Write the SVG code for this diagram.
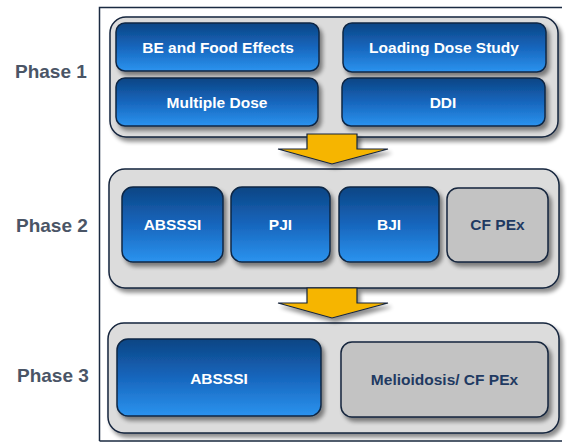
<svg xmlns="http://www.w3.org/2000/svg" width="568" height="443" viewBox="0 0 568 443">
<defs>
<linearGradient id="blue" x1="0" y1="0" x2="0" y2="1">
<stop offset="0" stop-color="#0c4584"/>
<stop offset="0.5" stop-color="#1766bd"/>
<stop offset="1" stop-color="#2b93ef"/>
</linearGradient>
<filter id="sh" x="-10%" y="-10%" width="130%" height="140%">
<feGaussianBlur in="SourceAlpha" stdDeviation="2"/>
<feOffset dx="3" dy="4" result="b"/>
<feComponentTransfer><feFuncA type="linear" slope="0.45"/></feComponentTransfer>
<feMerge><feMergeNode/><feMergeNode in="SourceGraphic"/></feMerge>
</filter>
</defs>
<style>
.frame{stroke:#1b2b42;stroke-width:1.5;fill:none}
.cont{fill:#dcdcdc;stroke:#15253d;stroke-width:1.5;filter:url(#sh)}
.bb{fill:url(#blue);stroke:#0f2744;stroke-width:1.5;filter:url(#sh)}
.gb{fill:#c3c3c3;stroke:#15253d;stroke-width:1.5;filter:url(#sh)}
.arr{fill:#f6b500;stroke:#15253d;stroke-width:1.2;filter:url(#sh)}
.wt{font-family:"Liberation Sans",Arial,sans-serif;font-weight:bold;font-size:15.5px;fill:#ffffff;text-anchor:middle}
.dt{font-family:"Liberation Sans",Arial,sans-serif;font-weight:bold;font-size:15.5px;fill:#1f3a62;text-anchor:middle}
.ph{font-family:"Liberation Sans",Arial,sans-serif;font-weight:bold;font-size:19px;fill:#4a5566}
</style>
<g id="frame">
<path class="frame" d="M99.5 441V7.5H562M99.5 441H562"/>
</g>
<g id="labels">
<text class="ph" x="15" y="78">Phase 1</text>
<text class="ph" x="16" y="232">Phase 2</text>
<text class="ph" x="17" y="382">Phase 3</text>
</g>
<g id="phase1">
<rect class="cont" x="110" y="17" width="448" height="120" rx="16"/>
</g>
<g id="phase2">
<rect class="cont" x="109" y="169" width="450" height="119" rx="16"/>
</g>
<g id="phase3">
<rect class="cont" x="108" y="323" width="451" height="110" rx="16"/>
</g>
<g id="connectors">
<path class="arr" d="M307 134H357V149H388L332 164L278 149H307Z"/>
<path class="arr" d="M307 288H357V303H388L332 318L278 303H307Z"/>
</g>
<g id="be-food">
<rect class="bb" x="116" y="23" width="203" height="48" rx="9"/>
<text class="wt" x="218" y="53">BE and Food Effects</text>
</g>
<g id="loading-dose">
<rect class="bb" x="343" y="23" width="203" height="49" rx="9"/>
<text class="wt" x="444" y="53">Loading Dose Study</text>
</g>
<g id="multiple-dose">
<rect class="bb" x="116" y="78" width="202" height="48" rx="9"/>
<text class="wt" x="217" y="108">Multiple Dose</text>
</g>
<g id="ddi">
<rect class="bb" x="342" y="78" width="203" height="48" rx="9"/>
<text class="wt" x="443" y="108">DDI</text>
</g>
<g id="absssi2">
<rect class="bb" x="122" y="187" width="101" height="75" rx="11"/>
<text class="wt" x="172.5" y="230">ABSSSI</text>
</g>
<g id="pji">
<rect class="bb" x="231" y="187" width="99" height="75" rx="11"/>
<text class="wt" x="280.5" y="230">PJI</text>
</g>
<g id="bji">
<rect class="bb" x="339" y="187" width="100" height="75" rx="11"/>
<text class="wt" x="389" y="230">BJI</text>
</g>
<g id="cfpex">
<rect class="gb" x="447" y="188" width="101" height="74" rx="11"/>
<text class="dt" x="497.5" y="230">CF PEx</text>
</g>
<g id="absssi3">
<rect class="bb" x="117" y="339" width="204" height="77" rx="11"/>
<text class="wt" x="219" y="384">ABSSSI</text>
</g>
<g id="melioidosis">
<rect class="gb" x="341" y="342" width="207" height="75" rx="11"/>
<text class="dt" x="444.5" y="385">Melioidosis/ CF PEx</text>
</g>
</svg>
